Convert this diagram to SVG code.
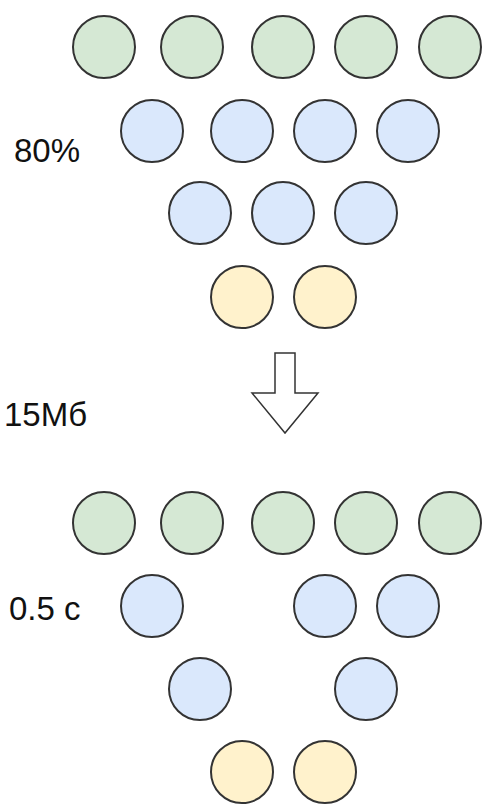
<svg xmlns="http://www.w3.org/2000/svg" width="487" height="807" viewBox="0 0 487 807">
<style>
.g{fill:#d5e8d4}
.b{fill:#dae8fc}
.y{fill:#fff2cc}
circle{stroke:#333;stroke-width:2}
text{font-family:"Liberation Sans",Arial,sans-serif;font-size:33px;fill:#111}
</style>
<rect width="487" height="807" fill="#fff"/>
<g id="labels">
<text x="14" y="162">80%</text>
<text x="4" y="426">15Мб</text>
<text x="9" y="620">0.5 с</text>
</g>
<g id="top">
<g id="t1"><circle class="g" cx="104" cy="47" r="31"/></g>
<g id="t2"><circle class="g" cx="192" cy="47" r="31"/></g>
<g id="t3"><circle class="g" cx="283" cy="47" r="31"/></g>
<g id="t4"><circle class="g" cx="366" cy="47" r="31"/></g>
<g id="t5"><circle class="g" cx="450" cy="47" r="31"/></g>
<g id="t6"><circle class="b" cx="152" cy="131" r="31"/></g>
<g id="t7"><circle class="b" cx="242" cy="131" r="31"/></g>
<g id="t8"><circle class="b" cx="325" cy="131" r="31"/></g>
<g id="t9"><circle class="b" cx="408" cy="131" r="31"/></g>
<g id="t10"><circle class="b" cx="200" cy="213" r="31"/></g>
<g id="t11"><circle class="b" cx="283" cy="213" r="31"/></g>
<g id="t12"><circle class="b" cx="366" cy="213" r="31"/></g>
<g id="t13"><circle class="y" cx="242" cy="297" r="31"/></g>
<g id="t14"><circle class="y" cx="325" cy="297" r="31"/></g>
</g>
<g id="connectors">
<polygon points="275,353 295,353 295,393 318,393 285,433 252,393 275,393" fill="#fff" stroke="#333" stroke-width="1.5" stroke-linejoin="miter"/>
</g>
<g id="bottom">
<g id="b1"><circle class="g" cx="104" cy="523" r="31"/></g>
<g id="b2"><circle class="g" cx="192" cy="523" r="31"/></g>
<g id="b3"><circle class="g" cx="283" cy="523" r="31"/></g>
<g id="b4"><circle class="g" cx="366" cy="523" r="31"/></g>
<g id="b5"><circle class="g" cx="450" cy="523" r="31"/></g>
<g id="b6"><circle class="b" cx="152" cy="606" r="31"/></g>
<g id="b7"><circle class="b" cx="325" cy="606" r="31"/></g>
<g id="b8"><circle class="b" cx="408" cy="606" r="31"/></g>
<g id="b9"><circle class="b" cx="200" cy="689" r="31"/></g>
<g id="b10"><circle class="b" cx="366" cy="689" r="31"/></g>
<g id="b11"><circle class="y" cx="242" cy="772" r="31"/></g>
<g id="b12"><circle class="y" cx="325" cy="772" r="31"/></g>
</g>
</svg>
